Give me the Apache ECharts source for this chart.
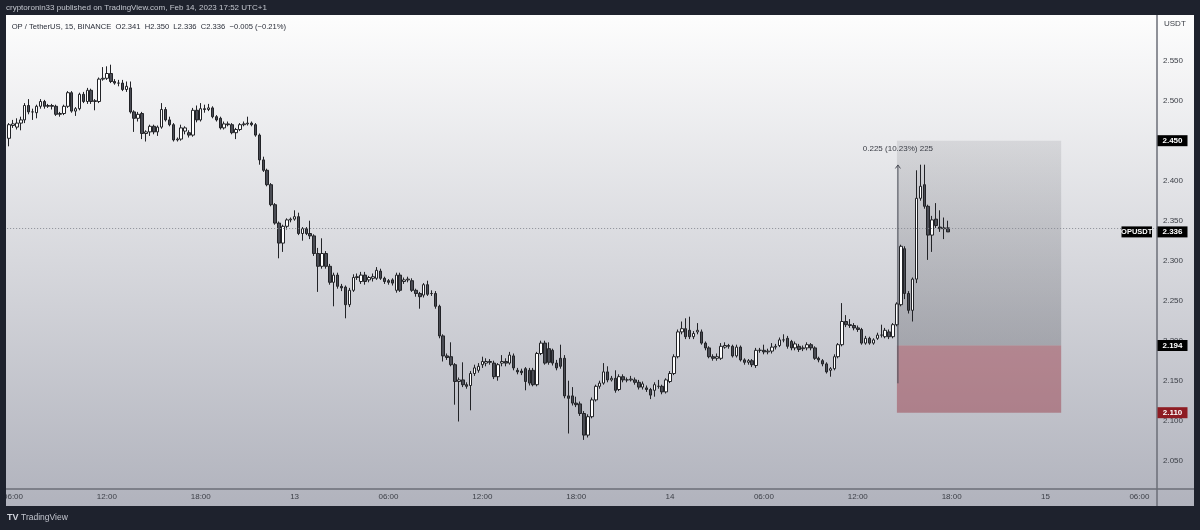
<!DOCTYPE html>
<html>
<head>
<meta charset="utf-8">
<script src="https://cdn.jsdelivr.net/npm/echarts@6/dist/echarts.min.js"></script>
<style>
html,body{margin:0;padding:0;background:#1e222d;}
#chart{width:1200px;height:530px;}
</style>
</head>
<body>
<div id="chart"></div>
<script>
// ---------------- DATA ----------------
// 15-minute candles, OP/USDT (Binance), first candle 2023-02-12 05:45 (UTC+1)
// each row: [open, close, low, high]
const candles = [
[2.453,2.470,2.443,2.472],[2.469,2.471,2.466,2.476],[2.467,2.472,2.464,2.478],[2.472,2.476,2.463,2.480],
[2.476,2.494,2.472,2.497],[2.494,2.486,2.483,2.502],[2.486,2.486,2.476,2.490],[2.485,2.493,2.478,2.495],
[2.493,2.499,2.490,2.502],[2.499,2.493,2.490,2.501],[2.493,2.494,2.491,2.496],[2.494,2.493,2.489,2.496],
[2.493,2.483,2.481,2.495],[2.483,2.484,2.480,2.486],[2.484,2.493,2.482,2.495],[2.493,2.510,2.491,2.512],
[2.510,2.487,2.485,2.512],[2.487,2.490,2.481,2.492],[2.490,2.508,2.488,2.510],[2.508,2.499,2.497,2.511],
[2.499,2.513,2.496,2.516],[2.513,2.499,2.496,2.515],[2.499,2.500,2.488,2.502],[2.499,2.527,2.497,2.529],
[2.527,2.528,2.525,2.542],[2.528,2.534,2.526,2.543],[2.534,2.524,2.522,2.545],[2.524,2.522,2.520,2.527],
[2.522,2.522,2.518,2.526],[2.522,2.514,2.512,2.526],[2.514,2.518,2.511,2.524],[2.516,2.486,2.484,2.524],
[2.486,2.478,2.461,2.488],[2.478,2.483,2.474,2.486],[2.484,2.459,2.452,2.486],[2.459,2.461,2.449,2.463],
[2.461,2.468,2.456,2.470],[2.468,2.461,2.458,2.470],[2.461,2.467,2.456,2.469],[2.467,2.489,2.465,2.497],
[2.489,2.476,2.474,2.492],[2.476,2.470,2.468,2.480],[2.470,2.451,2.449,2.472],[2.451,2.452,2.449,2.454],
[2.452,2.466,2.450,2.470],[2.462,2.466,2.458,2.468],[2.460,2.457,2.454,2.463],[2.457,2.488,2.455,2.491],
[2.488,2.476,2.473,2.494],[2.476,2.490,2.474,2.497],[2.490,2.489,2.485,2.495],[2.489,2.491,2.487,2.496],
[2.491,2.480,2.478,2.493],[2.480,2.476,2.474,2.482],[2.478,2.466,2.464,2.480],[2.466,2.471,2.464,2.474],
[2.471,2.470,2.468,2.474],[2.470,2.460,2.458,2.472],[2.460,2.464,2.452,2.466],[2.464,2.470,2.462,2.472],
[2.470,2.471,2.468,2.474],[2.471,2.472,2.469,2.480],[2.472,2.470,2.468,2.474],[2.470,2.457,2.455,2.472],
[2.457,2.426,2.420,2.459],[2.426,2.413,2.411,2.430],[2.413,2.395,2.393,2.415],[2.395,2.370,2.368,2.397],
[2.370,2.347,2.345,2.372],[2.347,2.322,2.303,2.349],[2.322,2.343,2.311,2.345],[2.343,2.351,2.339,2.353],
[2.351,2.352,2.348,2.354],[2.352,2.355,2.350,2.363],[2.355,2.334,2.332,2.360],[2.334,2.340,2.325,2.342],
[2.340,2.334,2.332,2.342],[2.334,2.331,2.327,2.350],[2.331,2.309,2.306,2.333],[2.309,2.293,2.261,2.316],
[2.293,2.309,2.290,2.328],[2.309,2.293,2.290,2.312],[2.293,2.273,2.270,2.296],[2.273,2.282,2.243,2.285],
[2.282,2.268,2.265,2.285],[2.268,2.266,2.262,2.271],[2.267,2.245,2.228,2.269],[2.245,2.263,2.242,2.266],
[2.263,2.279,2.261,2.283],[2.279,2.280,2.276,2.284],[2.274,2.282,2.271,2.286],[2.282,2.274,2.270,2.286],
[2.276,2.279,2.273,2.281],[2.278,2.280,2.274,2.284],[2.278,2.288,2.276,2.292],[2.287,2.278,2.276,2.290],
[2.278,2.274,2.271,2.280],[2.275,2.273,2.270,2.277],[2.276,2.272,2.269,2.278],[2.263,2.282,2.260,2.285],
[2.282,2.263,2.261,2.285],[2.274,2.276,2.271,2.279],[2.276,2.277,2.273,2.280],[2.275,2.263,2.261,2.278],
[2.263,2.259,2.255,2.265],[2.259,2.255,2.240,2.261],[2.257,2.270,2.254,2.272],[2.270,2.258,2.256,2.275],
[2.259,2.259,2.256,2.263],[2.259,2.243,2.240,2.262],[2.243,2.206,2.203,2.245],[2.206,2.181,2.174,2.208],
[2.181,2.179,2.176,2.184],[2.180,2.170,2.168,2.198],[2.170,2.149,2.120,2.172],[2.149,2.151,2.099,2.154],
[2.151,2.145,2.142,2.173],[2.145,2.143,2.140,2.148],[2.144,2.159,2.113,2.162],[2.159,2.166,2.156,2.170],
[2.163,2.168,2.160,2.172],[2.170,2.174,2.166,2.180],[2.172,2.174,2.168,2.178],[2.174,2.173,2.170,2.177],
[2.172,2.155,2.152,2.175],[2.155,2.170,2.150,2.172],[2.172,2.174,2.168,2.182],[2.174,2.172,2.168,2.178],
[2.172,2.182,2.170,2.186],[2.181,2.166,2.163,2.184],[2.163,2.161,2.158,2.166],[2.162,2.160,2.157,2.165],
[2.165,2.149,2.138,2.167],[2.163,2.147,2.144,2.166],[2.163,2.145,2.143,2.166],[2.145,2.184,2.143,2.186],
[2.184,2.197,2.182,2.200],[2.197,2.172,2.170,2.200],[2.190,2.173,2.170,2.198],[2.188,2.172,2.169,2.190],
[2.172,2.166,2.163,2.176],[2.178,2.168,2.165,2.195],[2.178,2.131,2.128,2.182],[2.131,2.128,2.084,2.150],
[2.131,2.122,2.119,2.142],[2.122,2.120,2.117,2.130],[2.121,2.109,2.106,2.124],[2.109,2.082,2.076,2.112],
[2.082,2.105,2.079,2.108],[2.105,2.126,2.103,2.129],[2.126,2.143,2.124,2.145],[2.143,2.147,2.140,2.150],
[2.147,2.161,2.145,2.172],[2.161,2.151,2.148,2.168],[2.151,2.153,2.149,2.156],[2.153,2.138,2.135,2.163],
[2.139,2.155,2.137,2.158],[2.155,2.151,2.148,2.158],[2.151,2.151,2.148,2.154],[2.151,2.152,2.149,2.156],
[2.151,2.148,2.145,2.154],[2.148,2.142,2.139,2.151],
[2.142,2.146,2.139,2.149],[2.141,2.139,2.136,2.144],[2.139,2.132,2.127,2.141],[2.138,2.145,2.130,2.148],
[2.143,2.143,2.140,2.151],[2.143,2.136,2.133,2.145],[2.136,2.151,2.134,2.153],[2.149,2.159,2.147,2.162],
[2.159,2.180,2.157,2.183],[2.180,2.211,2.178,2.214],[2.211,2.215,2.208,2.224],[2.215,2.205,2.202,2.228],
[2.213,2.205,2.202,2.230],[2.205,2.209,2.202,2.212],[2.211,2.213,2.208,2.222],[2.211,2.197,2.195,2.214],
[2.197,2.191,2.188,2.199],[2.191,2.180,2.178,2.193],[2.180,2.178,2.175,2.183],[2.178,2.180,2.175,2.184],
[2.178,2.193,2.176,2.197],[2.192,2.194,2.190,2.198],[2.194,2.193,2.190,2.196],[2.193,2.181,2.179,2.195],
[2.181,2.192,2.179,2.195],[2.192,2.176,2.174,2.194],[2.176,2.173,2.170,2.178],[2.173,2.175,2.170,2.177],
[2.175,2.170,2.167,2.177],[2.169,2.188,2.166,2.191],[2.188,2.188,2.185,2.191],[2.188,2.186,2.183,2.195],
[2.186,2.187,2.183,2.190],[2.187,2.192,2.184,2.197],[2.192,2.193,2.189,2.196],[2.194,2.201,2.192,2.204],
[2.201,2.201,2.198,2.208],[2.203,2.193,2.190,2.206],[2.199,2.191,2.188,2.201],[2.191,2.196,2.188,2.199],
[2.193,2.189,2.186,2.196],[2.190,2.191,2.187,2.194],[2.191,2.195,2.188,2.198],[2.195,2.191,2.188,2.197],
[2.191,2.178,2.176,2.193],[2.178,2.176,2.173,2.180],[2.175,2.171,2.168,2.177],[2.171,2.161,2.159,2.173],
[2.163,2.165,2.155,2.167],[2.165,2.180,2.163,2.183],[2.180,2.195,2.178,2.197],[2.195,2.224,2.193,2.247],
[2.224,2.220,2.217,2.232],[2.220,2.219,2.216,2.227],[2.219,2.216,2.213,2.222],[2.216,2.214,2.211,2.219],
[2.214,2.197,2.195,2.216],[2.197,2.203,2.195,2.206],[2.203,2.197,2.195,2.205],[2.197,2.201,2.195,2.203],
[2.203,2.207,2.201,2.210],[2.207,2.207,2.204,2.220],[2.205,2.213,2.203,2.216],[2.211,2.205,2.202,2.214],
[2.205,2.220,2.203,2.222],[2.220,2.246,2.218,2.248],[2.245,2.318,2.243,2.320],[2.315,2.259,2.252,2.318],
[2.259,2.238,2.234,2.262],[2.238,2.277,2.224,2.279],[2.277,2.378,2.272,2.413],[2.378,2.393,2.375,2.420],
[2.395,2.368,2.365,2.420],[2.368,2.332,2.301,2.370],[2.332,2.351,2.311,2.356],[2.352,2.344,2.341,2.372],
[2.342,2.340,2.336,2.363],[2.340,2.341,2.327,2.354],[2.341,2.336,2.336,2.350]
];
const firstCandleUTC = Date.UTC(2023, 1, 12, 5, 45);   // shown as local UTC+1 clock
const slotMinutes = 15;
const slotCount = 294;                                  // candles + empty right margin
const priceTicks = [2.05, 2.10, 2.15, 2.20, 2.25, 2.30, 2.35, 2.40, 2.45, 2.50, 2.55];
const priceRange = [2.014625, 2.604625];                 // visible price range of the pane
const lastPrice = 2.336;
const takeProfit = 2.450, entryPrice = 2.194, stopLoss = 2.110;
const positionSlots = [227, 269];
const measureRange = [2.1467, 2.4197];
const measureText = '0.225 (10.23%) 225';
const publishText = 'cryptoronin33 published on TradingView.com, Feb 14, 2023 17:52 UTC+1';
const headerText = 'OP / TetherUS, 15, BINANCE  O2.341  H2.350  L2.336  C2.336  \u22120.005 (\u22120.21%)';

// ---------------- CHART ----------------
const FONT = "'Liberation Sans', Arial, sans-serif";
const pad = n => String(n).padStart(2, '0');
const categories = [];
for (let i = 0; i < slotCount; i++) {
  const d = new Date(firstCandleUTC + i * slotMinutes * 60000);
  categories.push(d.getUTCFullYear() + '-' + pad(d.getUTCMonth() + 1) + '-' + pad(d.getUTCDate()) + ' ' +
    pad(d.getUTCHours()) + ':' + pad(d.getUTCMinutes()));
}

const chart = echarts.init(document.getElementById('chart'), null, {renderer: 'canvas'});
const option = {
  animation: false,
  grid: {left: 5, right: 43, top: 17, bottom: 41, containLabel: false},
  xAxis: {
    type: 'category', data: categories, boundaryGap: true,
    axisLine: {show: false}, axisTick: {show: false}, splitLine: {show: false},
    axisLabel: {
      interval: (idx, val) => { const t = val.slice(11); return t.slice(3) === '00' && (+t.slice(0, 2)) % 6 === 0; },
      formatter: v => { const t = v.slice(11); return t === '00:00' ? String(+v.slice(8, 10)) : t; },
      color: '#3d4048', fontSize: 8, fontFamily: FONT, margin: 4
    }
  },
  yAxis: {
    type: 'value', position: 'right', min: priceRange[0], max: priceRange[1],
    splitLine: {show: false}, axisLine: {show: false}, axisTick: {show: false},
    axisLabel: {customValues: priceTicks, formatter: v => v.toFixed(3), color: '#3d4048', fontSize: 8, fontFamily: FONT, margin: 6}
  },
  series: [{
    type: 'candlestick', data: candles, barWidth: 3,
    itemStyle: {color: '#ffffff', color0: '#4a4c54', borderColor: '#222327', borderColor0: '#222327', borderColorDoji: '#222327', borderWidth: 1},
    markLine: {
      silent: true, symbol: ['none', 'none'], label: {show: false},
      lineStyle: {color: '#8a8d95', type: [1, 2], width: 1},
      data: [{yAxis: lastPrice}]
    },
    markArea: {
      silent: true,
      data: [
        [{xAxis: categories[positionSlots[0]], yAxis: takeProfit,
          itemStyle: {color: {type: 'linear', x: 0, y: 0, x2: 0, y2: 1, colorStops: [
            {offset: 0, color: 'rgba(70,72,80,0.12)'}, {offset: 1, color: 'rgba(70,72,80,0.29)'}]}}},
         {xAxis: categories[positionSlots[1]], yAxis: entryPrice}],
        [{xAxis: categories[positionSlots[0]], yAxis: entryPrice, itemStyle: {color: 'rgba(145,30,45,0.40)'}},
         {xAxis: categories[positionSlots[1]], yAxis: stopLoss}]
      ]
    }
  }]
};
chart.setOption(option);

// overlay elements placed through the chart's own scales
const px = (slot, price) => chart.convertToPixel({gridIndex: 0}, [slot, price]);
const yOf = price => chart.convertToPixel({yAxisIndex: 0}, price);
const DARK = '#1e222d';
const els = [];
els.push({type: 'rect', z: -100, silent: true, shape: {x: 5, y: 15, width: 1189, height: 491},
  style: {fill: {type: 'linear', x: 0, y: 0, x2: 0, y2: 1, colorStops: [{offset: 0, color: '#fdfdfd'}, {offset: 1, color: '#b1b3bd'}]}}});
// pane separators
els.push({type: 'line', z: 50, shape: {x1: 1157, y1: 15, x2: 1157, y2: 506}, style: {stroke: '#6b6e77', lineWidth: 1.5}});
els.push({type: 'line', z: 50, shape: {x1: 5, y1: 489, x2: 1194, y2: 489}, style: {stroke: '#6b6e77', lineWidth: 1.5}});
// frame
els.push({type: 'rect', z: 100, shape: {x: 0, y: 0, width: 1200, height: 15}, style: {fill: DARK}});
els.push({type: 'rect', z: 100, shape: {x: 0, y: 0, width: 6, height: 530}, style: {fill: DARK}});
els.push({type: 'rect', z: 100, shape: {x: 1194, y: 0, width: 6, height: 530}, style: {fill: DARK}});
els.push({type: 'rect', z: 100, shape: {x: 0, y: 506, width: 1200, height: 24}, style: {fill: DARK}});
els.push({type: 'text', z: 101, x: 6, y: 8, style: {text: publishText, fill: '#c3c6ce', font: '8px ' + FONT, verticalAlign: 'middle'}});
els.push({type: 'text', z: 101, x: 7, y: 518, style: {text: 'TV', fill: '#d1d4dc', font: 'bold 9px ' + FONT, verticalAlign: 'middle'}});
els.push({type: 'text', z: 101, x: 21, y: 518, style: {text: 'TradingView', fill: '#c3c6ce', font: '8.5px ' + FONT, verticalAlign: 'middle'}});
// header
els.push({type: 'text', z: 60, x: 11.7, y: 27, style: {text: headerText, fill: '#2a2e39', font: '7.6px ' + FONT, verticalAlign: 'middle'}});
els.push({type: 'text', z: 60, x: 1164, y: 24, style: {text: 'USDT', fill: '#3d4048', font: '8px ' + FONT, verticalAlign: 'middle'}});
// price tags
function tag(price, label, fill) {
  const y = yOf(price);
  els.push({type: 'rect', z: 110, shape: {x: 1157.5, y: y - 5.5, width: 30, height: 11}, style: {fill: fill}});
  els.push({type: 'text', z: 111, x: 1172.5, y: y, style: {text: label, fill: '#ffffff', font: 'bold 8px ' + FONT, align: 'center', verticalAlign: 'middle'}});
}
tag(takeProfit, takeProfit.toFixed(3), '#000000');
tag(entryPrice, entryPrice.toFixed(3), '#000000');
tag(stopLoss, stopLoss.toFixed(3), '#8e1c23');
tag(lastPrice, lastPrice.toFixed(3), '#000000');
{
  const y = yOf(lastPrice);
  els.push({type: 'rect', z: 110, shape: {x: 1121.5, y: y - 5.5, width: 30.5, height: 11}, style: {fill: '#000000'}});
  els.push({type: 'text', z: 111, x: 1136.7, y: y, style: {text: 'OPUSDT', fill: '#ffffff', font: 'bold 7.5px ' + FONT, align: 'center', verticalAlign: 'middle'}});
}
// measure arrow
{
  const lo = px(categories[positionSlots[0]], measureRange[0]);
  const hi = px(categories[positionSlots[0]], measureRange[1]);
  const x = lo[0] + 1;
  els.push({type: 'line', z: 60, shape: {x1: x, y1: lo[1], x2: x, y2: hi[1]}, style: {stroke: '#4a4d56', lineWidth: 1}});
  els.push({type: 'polyline', z: 60, shape: {points: [[x - 2.5, hi[1] + 3.5], [x, hi[1]], [x + 2.5, hi[1] + 3.5]]}, style: {stroke: '#4a4d56', lineWidth: 1, fill: null}});
  els.push({type: 'text', z: 60, x: x, y: hi[1] - 16, style: {text: measureText, fill: '#3a3d45', font: '8px ' + FONT, align: 'center', verticalAlign: 'middle'}});
}
chart.setOption({graphic: {elements: els}});
</script>
</body>
</html>
